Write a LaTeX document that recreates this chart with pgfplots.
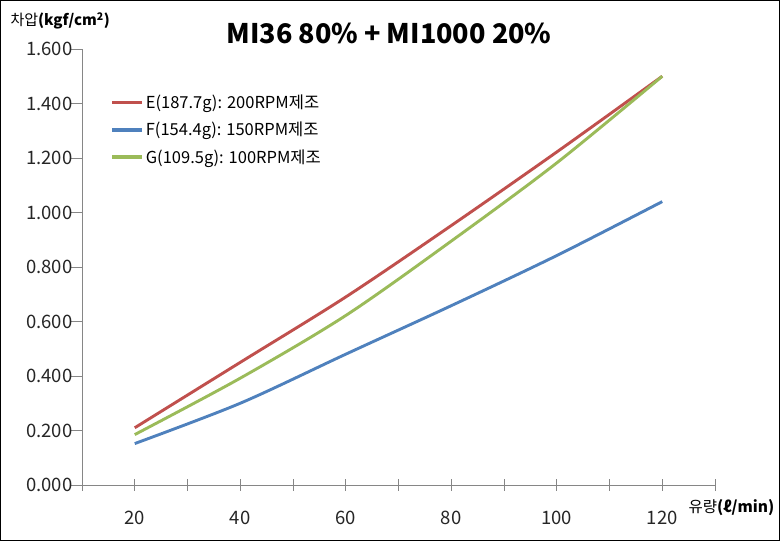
\documentclass[border=0pt]{standalone}
\usepackage{pgfplots}
\pgfplotsset{compat=1.18}
\usepackage{fontspec}
\setmainfont{Noto Sans CJK KR}
\definecolor{cE}{HTML}{C0504D}
\definecolor{cF}{HTML}{4F81BD}
\definecolor{cG}{HTML}{9BBB59}
\definecolor{axgray}{HTML}{868686}
\begin{document}
\begin{tikzpicture}
\useasboundingbox (0,0) rectangle (780bp,541bp);
\draw[black, line width=1.3bp] (0.65bp,0.65bp) rectangle (779.35bp,540.35bp);
\node[font=\fontsize{27bp}{30bp}\selectfont\bfseries] at (389bp,508bp) {MI36 80\% + MI1000 20\%};
\node[anchor=west, font=\fontsize{15bp}{17bp}\selectfont] at (7bp,520bp) {차압\textbf{(kgf/cm\textsuperscript{2})}};
\node[anchor=west, font=\fontsize{15.5bp}{17bp}\selectfont] at (685bp,33bp) {유량\textbf{(ℓ/min)}};
\begin{axis}[
  at={(82bp,56bp)}, anchor=south west,
  width=633bp, height=436bp, scale only axis,
  xmin=10, xmax=130, ymin=0, ymax=1.6,
  axis lines=left, axis line style={axgray, line width=0.8bp, -},
  xtick={10,20,...,130},
  xticklabels={,20,,40,,60,,80,,100,,120,},
  ytick={0,0.2,...,1.6},
  x tick style={axgray, line width=0.8bp},
  y tick style={axgray, line width=0.8bp},
  xtick align=center,
  ytick align=outside,
  x tick label style={yshift=-17bp},
  y tick label style={xshift=5bp},
  major tick length=11bp,
  tick label style={font=\fontsize{18.5bp}{20bp}\selectfont, text=black!85},
  y tick label style={/pgf/number format/.cd, fixed, fixed zerofill, precision=3, 1000 sep={}},
  /pgf/number format/assume math mode=true,
  legend style={at={(0.045,0.899)}, anchor=north west, draw=none, fill=none,
    font=\fontsize{16.5bp}{18bp}\selectfont, row sep=8bp, inner sep=0pt,
    legend cell align=left},
  legend image code/.code={\draw[#1, line width=3.2bp] (0,0) -- (30bp,0);},
]
\addplot[cE, line width=2.9bp, smooth] coordinates {(20,0.210) (40,0.450) (60,0.690) (80,0.952) (100,1.222) (120,1.500)};
\addlegendentry{E(187.7g): 200RPM제조}
\addplot[cF, line width=2.9bp, smooth] coordinates {(20,0.152) (40,0.300) (60,0.480) (80,0.658) (100,0.842) (120,1.040)};
\addlegendentry{F(154.4g): 150RPM제조}
\addplot[cG, line width=2.9bp, smooth] coordinates {(20,0.185) (40,0.392) (60,0.622) (80,0.895) (100,1.182) (120,1.500)};
\addlegendentry{G(109.5g): 100RPM제조}
\end{axis}
\end{tikzpicture}
\end{document}
